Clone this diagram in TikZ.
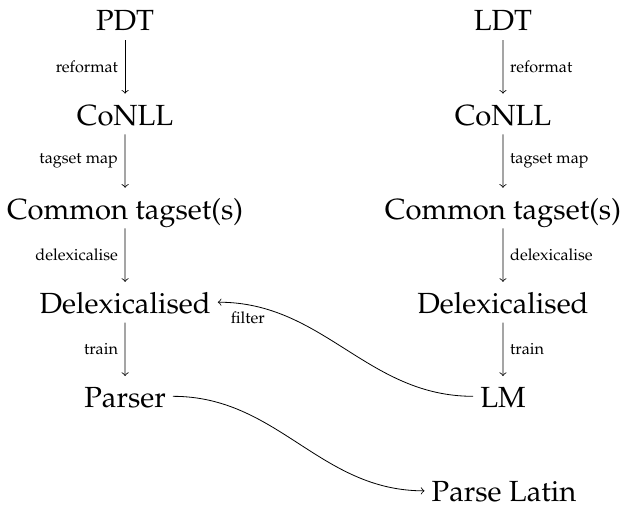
\documentclass[tikz,border=0pt]{standalone}
\usepackage[T1]{fontenc}
\usepackage{mathpazo}
\begin{document}
\begin{tikzpicture}[stage/.style={font=\Large,anchor=base,text height=12pt,text depth=1pt},
	every child node/.style={stage},
	lbl/.style={font=\footnotesize,text height=,text depth=},
	edge from parent/.style={draw,->},
	level/.style={level distance=52pt}]
\useasboundingbox (-61.8pt,15.3pt) rectangle (246pt,-234.7pt);
% Czech treebank
\node[stage] (pdt) {PDT}
child {node (conllP) {CoNLL}
	child {node (tagsP) {Common tagset(s)}
		child {node (delexP) {Delexicalised}
			child {node (parser) {Parser}
				edge from parent node[lbl,left] {train}}
			edge from parent node[lbl,left] {delexicalise}}
		edge from parent node[lbl,left] {tagset map}}
	edge from parent node[lbl,left] {reformat}};
% Latin treebank
\node[stage] (ldt) at (186.7pt,0) {LDT}
child {node (conllL) {CoNLL}
	child {node (tagsL) {Common tagset(s)}
		child {node (delexL) {Delexicalised}
			child {node (lm) {LM}
				edge from parent node[lbl,right] {train}}
			edge from parent node[lbl,right] {delexicalise}}
		edge from parent node[lbl,right] {tagset map}}
	edge from parent node[lbl,right] {reformat}};
\node[stage] (latin) at (187.2pt,-232.7pt) {Parse Latin};
\draw[->] (lm) to[out=180,in=0] node[lbl,pos=0.9,below] {filter} (delexP);
\draw[->] (parser) to[out=0,in=180] (latin);
\end{tikzpicture}
\end{document}
